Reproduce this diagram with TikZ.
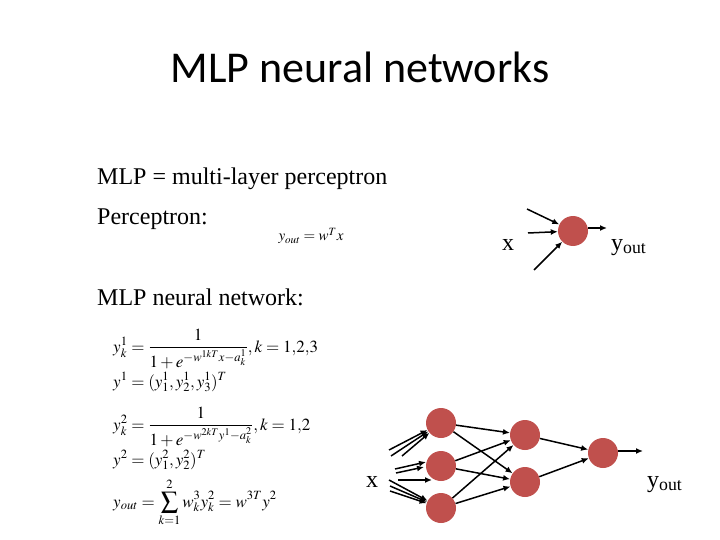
\documentclass[tikz,border=0pt]{standalone}
\usepackage{amsmath}
\usepackage{mathptmx}
\usepackage{fontspec}
\setmainfont{Liberation Serif}
\newfontfamily\titlefont{Carlito}
\usetikzlibrary{arrows.meta}
\definecolor{neuron}{RGB}{192,80,77}
\tikzset{
  neu/.style={circle,fill=neuron,draw=none,minimum size=30pt,inner sep=0pt},
  con/.style={line width=1.5pt,-{Latex[length=7pt,width=6pt]}},
  body/.style={font=\fontsize{24}{28}\selectfont,inner sep=0pt},
  eqn/.style={font=\fontsize{17}{19}\selectfont,inner sep=0pt,anchor=base west}
}
\begin{document}
\begin{tikzpicture}[x=1pt,y=-1pt]
\useasboundingbox (0,0) rectangle (720,540);
% title
\node[inner sep=0pt,anchor=base] (title) at (360,83) {\titlefont\fontsize{44}{48}\selectfont MLP neural networks};
\node[body,anchor=base west] (l1) at (97,185) {MLP = multi-layer perceptron};
\node[body,anchor=base west] (l2) at (97,225) {Perceptron:};
\node[body,anchor=base west] (l3) at (97,305) {MLP neural network:};
\node[inner sep=0pt,font=\fontsize{15}{17}\selectfont] (pf) at (311,236) {$y_{out}=w^Tx$};
% perceptron
\node[neu] (p) at (573,231) {};
\node[body,anchor=base] (px) at (508,250) {x};
\node[body,anchor=base west] (py) at (611,250) {y\textsubscript{out}};
\coordinate (pa) at (527,209);
\coordinate (pb) at (528,233);
\coordinate (pc) at (534,270);
\coordinate (po) at (607,228);
\draw[con] (pa) -- (p);
\draw[con] (pb) -- (p);
\draw[con] (pc) -- (p);
\draw[con] (p.east |- po) -- (po);
% equations
\node[eqn] (e1) at (113,352) {$y^1_k=\dfrac{1}{1+e^{-w^{1kT}x-a^1_k}}, k=1{,}2{,}3$};
\node[eqn] (e2) at (113,387) {$y^1=(y^1_1,y^1_2,y^1_3)^T$};
\node[eqn] (e3) at (113,430) {$y^2_k=\dfrac{1}{1+e^{-w^{2kT}y^1-a^2_k}}, k=1{,}2$};
\node[eqn] (e4) at (113,465) {$y^2=(y^2_1,y^2_2)^T$};
\node[eqn] (e5) at (113,507) {$y_{out}=\displaystyle\sum_{k=1}^{2}w^3_ky^2_k=w^{3T}y^2$};
% MLP
\node[neu] (a1) at (441,423) {};
\node[neu] (a2) at (441,466) {};
\node[neu] (a3) at (441,508) {};
\node[neu] (b1) at (525,435) {};
\node[neu] (b2) at (525,482) {};
\node[neu] (c1) at (603,453) {};
\node[body,anchor=base] (mx) at (372,487) {x};
\node[body,anchor=base west] (my) at (647,487) {y\textsubscript{out}};
\coordinate (mo) at (643,451);
\coordinate (i1) at (389,450);
\coordinate (i2) at (391,456);
\coordinate (i3) at (402,456);
\coordinate (i4) at (395,469);
\coordinate (i5) at (396,473);
\coordinate (i6) at (398,480);
\coordinate (i7) at (389,480);
\coordinate (i8) at (390,486);
\coordinate (i9) at (390,491);
\coordinate (t4) at (426,462);
\coordinate (t5) at (424,467);
\coordinate (t6) at (432,480);
\draw[con] (i1) -- (a1);
\draw[con] (i2) -- (a1);
\draw[con] (i3) -- (a1);
\draw[con] (i4) -- (t4);
\draw[con] (i5) -- (t5);
\draw[con] (i6) -- (t6);
\draw[con] (i7) -- (a3);
\draw[con] (i8) -- (a3);
\draw[con] (i9) -- (a3);
\foreach \s in {a1,a2,a3}{\foreach \t in {b1,b2}{\draw[con] (\s) -- (\t);}}
\draw[con] (b1) -- (c1);
\draw[con] (b2) -- (c1);
\draw[con] (c1.east |- mo) -- (mo);
\end{tikzpicture}
\end{document}
